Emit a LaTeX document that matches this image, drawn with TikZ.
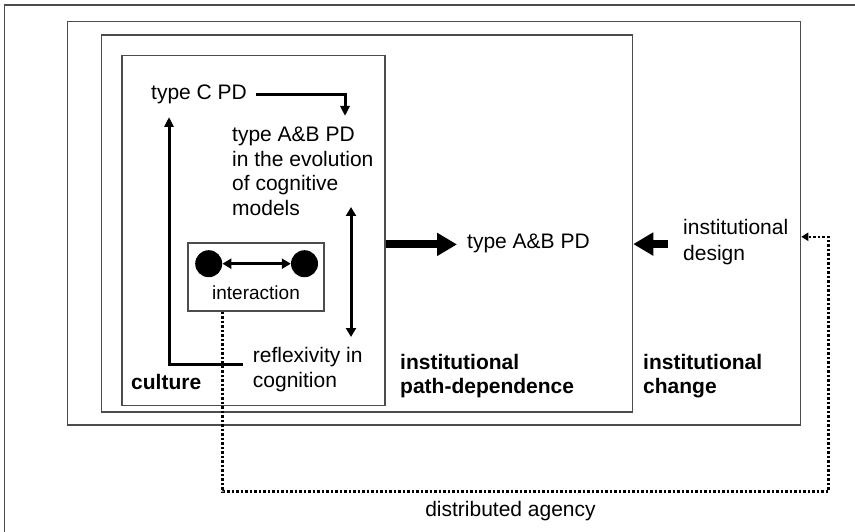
\documentclass[tikz,border=0pt]{standalone}
\usepackage{fontspec}
\setmainfont{Liberation Sans}
\usepackage{tikz}
\usetikzlibrary{arrows.meta,calc}
\definecolor{framegray}{gray}{0.3}
\tikzstyle{frame} = [draw=framegray, line width=1.1pt, inner sep=0pt]
\tikzstyle{tnode} = [align=left, inner sep=0pt, font=\fontsize{21}{25}\selectfont]
\tikzstyle{bnode} = [tnode, font=\fontsize{21}{24}\selectfont\bfseries]
\tikzstyle{agent} = [circle, fill=black, minimum size=27pt, inner sep=0pt]
\tikzstyle{link} = [line width=3pt, -{Triangle[length=10pt,width=9pt]}]
\tikzstyle{twolink} = [line width=3pt, {Triangle[length=9pt,width=10pt]}-{Triangle[length=9pt,width=10pt]}]
\tikzstyle{biglink} = [line width=8pt, -{Triangle[length=20pt,width=22pt]}]
\tikzstyle{dots} = [line width=2.5pt, dash pattern=on 2.5pt off 2pt, -{Triangle[length=7pt,width=8pt]}]

\begin{document}
\begin{tikzpicture}[x=1pt,y=-1pt]
  \useasboundingbox (0,0) rectangle (855,532);
  \draw [framegray, line width=1.1pt] (4.5,540) |- (860,5);
  % nested boxes
  \node [frame, minimum width=733pt, minimum height=403.3pt](chbox) at (434.2,223.3) {};
  \node [frame, minimum width=531pt, minimum height=377pt](pbox) at (367.2,223.5) {};
  \node [frame, minimum width=263pt, minimum height=349.7pt](cbox) at (253.5,230.8) {};
  \node [frame, minimum width=136pt, minimum height=68pt](ibox) at (256,277) {};

  \node [agent](agA) at (208.7,263.7) {};
  \node [agent](agB) at (304.5,263.7) {};

  % multi-line nodes sit on their last baseline
  \node [tnode, anchor=base west](typeC) at (151,100) {type C PD};
  \node [tnode, anchor=base west](typeAB) at (232,216) {type A\&B PD\\in the evolution\\of cognitive\\models};
  \node [tnode, anchor=base west](refl) at (252.7,387.7) {reflexivity in\\cognition};
  \node [bnode, anchor=base west](culture) at (131,389) {culture};
  \node [tnode, font=\fontsize{19}{22}\selectfont, anchor=base](inter) at (256,299) {interaction};
  \node [tnode, anchor=base west](tAB) at (467,248) {type A\&B PD};
  \node [tnode, anchor=base west](design) at (683,260) {institutional\\design};
  \node [bnode, anchor=base west](pathdep) at (400,393.5) {institutional\\path-dependence};
  \node [bnode, anchor=base west](change) at (643,393.5) {institutional\\change};
  \node [tnode, anchor=base](agency) at (510.5,516.7) {distributed agency};

  \coordinate (abTop) at (345,116);
  \coordinate (cTop) at (169,117);
  \coordinate (cogTop) at (351,207);
  \coordinate (cogBot) at (351,337);
  \coordinate (agCorner) at (828.3,491.7);

  \draw [link] ([xshift=9pt]typeC.east) -| (abTop);
  \draw [link] ([xshift=-10pt,yshift=4.8pt]refl.west) -| (cTop);
  \draw [twolink] (cogTop) -- (cogBot);
  \draw [twolink] (agA) -- (agB);
  \draw [biglink] ([yshift=-1.5pt]cbox.east |- tAB.west) -- ([xshift=-10pt,yshift=-1.5pt]tAB.west);
  \draw [biglink] ([xshift=-15pt,yshift=-2pt]design.west) -- ([yshift=-2pt]pbox.east |- design.west);
  \draw [dots] ([xshift=-33.3pt]ibox.south) |- (agCorner) |- ([yshift=5.3pt]design.east -| chbox.east);
\end{tikzpicture}
\end{document}
